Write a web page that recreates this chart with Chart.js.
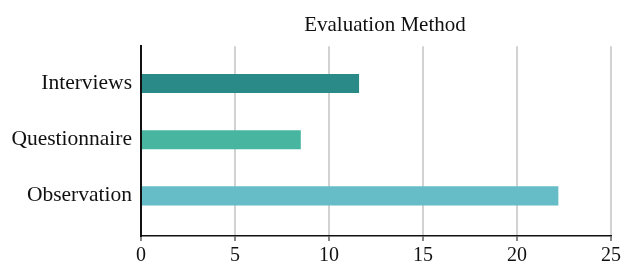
<!DOCTYPE html>
<html>
<head>
<meta charset="utf-8">
<script src="https://cdn.jsdelivr.net/npm/chart.js@4/dist/chart.umd.min.js"></script>
<style>
  html, body { margin: 0; padding: 0; background: #fff; }
  #wrap { width: 626px; height: 264px; }
</style>
</head>
<body>
<div id="wrap"><canvas id="myChart"></canvas></div>
<script>
const methods = ['Interviews', 'Questionnaire', 'Observation'];
const counts = [11.6, 8.5, 22.2];
const barColors = ['#2a8a87', '#47b5a0', '#66bdc8'];
const xTicks = [0, 5, 10, 15, 20, 25];

const serif = "'Liberation Serif', 'Times New Roman', serif";

// title sits a little right of the plot centre in the original
const shiftTitle = {
    id: 'shiftTitle',
    afterLayout(chart) {
        const t = chart.titleBlock;
        if (t) { t.left += 9; t.right += 9; }
    }
};

const ctx = document.getElementById('myChart');

new Chart(ctx, {
    type: 'bar',
    data: {
        datasets: [{
            data: methods.map((m, i) => ({ x: counts[i], y: i })),
            backgroundColor: barColors,
            borderWidth: 0,
            barPercentage: 0.34,
            categoryPercentage: 1
        }]
    },
    options: {
        animation: false,
        responsive: true,
        maintainAspectRatio: false,
        indexAxis: 'y',
        layout: { padding: { left: 0, right: 15, top: 13, bottom: 0 } },
        plugins: {
            legend: { display: false },
            tooltip: { enabled: false },
            title: {
                display: true,
                text: 'Evaluation Method',
                color: '#111',
                fullSize: false,
                font: { family: serif, size: 21, weight: 'normal' },
                padding: { top: 0, bottom: 8 }
            }
        },
        scales: {
            x: {
                type: 'linear',
                min: 0,
                max: 25,
                afterBuildTicks: s => { s.ticks = xTicks.map(v => ({ value: v })); },
                afterFit: s => { s.height = 28; },
                grid: {
                    color: '#d2d2d2',
                    lineWidth: 2,
                    tickLength: 5,
                    tickColor: '#888'
                },
                border: { display: true, color: '#111', width: 1.5 },
                ticks: {
                    color: '#111',
                    padding: 3,
                    font: { family: serif, size: 20 }
                }
            },
            y: {
                type: 'linear',
                reverse: true,
                offset: false,
                min: -0.665,
                max: 2.715,
                afterBuildTicks: s => { s.ticks = methods.map((m, i) => ({ value: i })); },
                afterFit: s => { s.width = 141; },
                grid: { display: false, drawTicks: false, offset: false },
                border: { display: true, color: '#111', width: 2 },
                ticks: {
                    color: '#111',
                    padding: 9,
                    font: { family: serif, size: 21.5 },
                    callback: v => methods[v]
                }
            }
        }
    },
    plugins: [shiftTitle]
});
</script>
</body>
</html>
